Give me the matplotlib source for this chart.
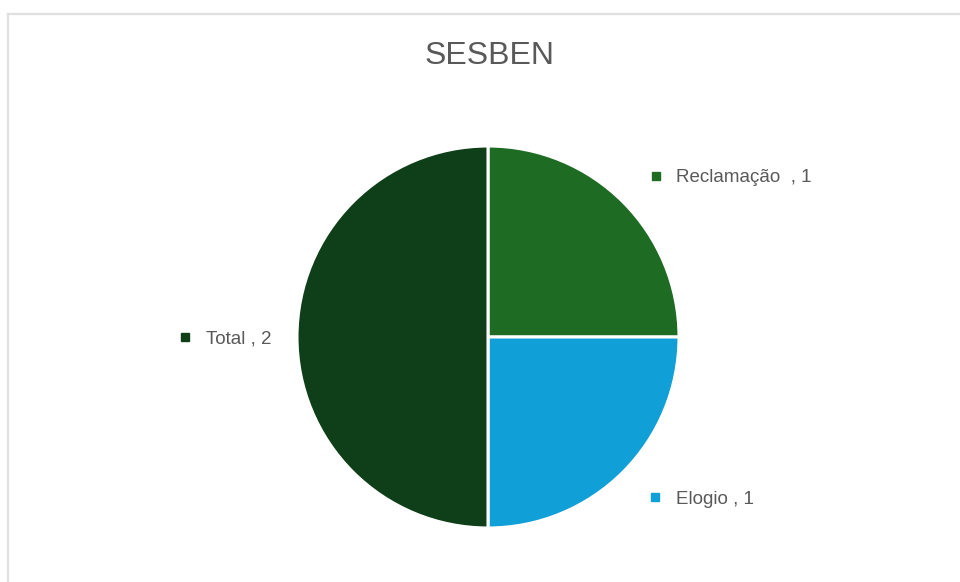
import matplotlib
matplotlib.use("Agg")
import matplotlib.pyplot as plt
from matplotlib.lines import Line2D

title = "SESBEN"
categories = ["Reclamação  ", "Elogio ", "Total "]
values = [1, 1, 2]
colors = ["#1e6b24", "#109fd6", "#0f3f18"]

W, H = 960, 582
fig = plt.figure(figsize=(W / 100, H / 100), dpi=100)
fig.patch.set_facecolor("white")

font = ["Liberation Sans Narrow", "Liberation Sans", "DejaVu Sans"]

# border (light gray frame, open at right/bottom)
fig.add_artist(Line2D([8 / W, 8 / W], [0, 1 - 14 / H], color="#e0e0e0", lw=1.6))
fig.add_artist(Line2D([8 / W, 1], [1 - 14 / H, 1 - 14 / H], color="#e0e0e0", lw=1.6))

cx, cy, r = 488, 337, 191
ax = fig.add_axes([(cx - r) / W, (H - cy - r) / H, 2 * r / W, 2 * r / H])
ax.pie(values, colors=colors, startangle=90, counterclock=False, radius=1,
       wedgeprops=dict(edgecolor="white", linewidth=2.2))
ax.set_xlim(-1, 1)
ax.set_ylim(-1, 1)
ax.set_aspect("equal")
ax.axis("off")

def px(x, y):
    return (x - cx) / r, (cy - y) / r

label_pos = {
    "Reclamação  ": ((656, 176), (676, 178)),
    "Elogio ": ((655, 497), (676, 499)),
    "Total ": ((185, 337), (206, 339)),
}
for cat, val, col in zip(categories, values, colors):
    (mx, my), (tx, ty) = label_pos[cat]
    ax.plot(*px(mx, my), marker="s", markersize=5.5, color=col, clip_on=False, lw=0)
    ax.text(*px(tx, ty), f"{cat}, {val}", fontsize=13.5, family=font, color="#595959",
            ha="left", va="center")

fig.text(490 / W, 1 - 56 / H, title, fontsize=23, family=font, color="#595959",
         ha="center", va="center")

fig.savefig("out.png", dpi=100)
